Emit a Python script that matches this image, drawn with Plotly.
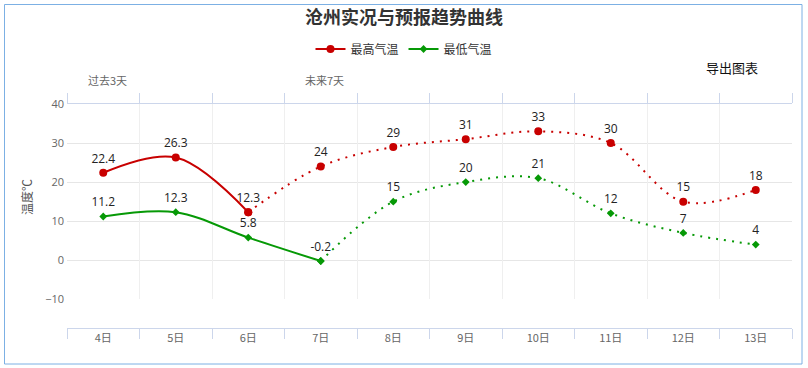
import plotly.graph_objects as go

# ---------------- data ----------------
categories = ['4日', '5日', '6日', '7日', '8日', '9日', '10日', '11日', '12日', '13日']
max_temps = [22.4, 26.3, 12.3, 24, 29, 31, 33, 30, 15, 18]
min_temps = [11.2, 12.3, 5.8, -0.2, 15, 20, 21, 12, 7, 4]
max_observed = 3   # number of observed (solid) points for max series
min_observed = 4   # number of observed (solid) points for min series
top_label_cats = ['4日', '7日']
top_label_texts = ['过去3天', '未来7天']

# ---------------- layout constants ----------------
W, H = 808, 368
ML, MR, MT, MB = 67, 16, 104, 40
PW, PH = W - ML - MR, H - MT - MB
Y_BOTTOM_PX = 299.3


def px_x(px):
    return (px - ML) / PW


def px_y(py):
    return (H - MB - py) / PH


RED = '#c80000'
GREEN = '#069906'
FONT = 'Noto Sans CJK SC, Noto Sans, sans-serif'
DOT = '2px,6px'

fig = go.Figure()


def fmt(v):
    return ('%g' % v)


def add_series(name, vals, n_obs, color, symbol, msize):
    # solid observed part
    fig.add_trace(go.Scatter(
        x=categories[:n_obs], y=vals[:n_obs], name=name, legendgroup=name,
        mode='lines+markers', line=dict(color=color, width=2, shape='spline', smoothing=1),
        marker=dict(color=color, size=msize, symbol=symbol), hoverinfo='x+y'))
    # dotted forecast part
    fig.add_trace(go.Scatter(
        x=categories[n_obs - 1:], y=vals[n_obs - 1:], name=name, legendgroup=name,
        showlegend=False, mode='lines+markers',
        line=dict(color=color, width=2, shape='spline', smoothing=1, dash=DOT),
        marker=dict(color=color, size=msize, symbol=symbol), hoverinfo='x+y'))
    # labels
    fig.add_trace(go.Scatter(
        x=categories, y=vals, mode='markers+text', text=[fmt(v) for v in vals],
        marker=dict(size=10, opacity=0),
        textposition='top center', showlegend=False, hoverinfo='skip',
        textfont=dict(size=12, color='#222', family='Open Sans, sans-serif')))


add_series('最高气温', max_temps, max_observed, RED, 'circle', 8)
add_series('最低气温', min_temps, min_observed, GREEN, 'diamond', 6)

# invisible trace for top category axis
fig.add_trace(go.Scatter(x=categories, y=max_temps, xaxis='x2', mode='markers',
                         marker=dict(opacity=0), showlegend=False, hoverinfo='skip'))

annotations = []
for c, t in zip(top_label_cats, top_label_texts):
    annotations.append(dict(x=c, xref='x', y=px_y(80), yref='paper', text=t, showarrow=False,
                            xshift=4, font=dict(size=11, color='#666', family=FONT),
                            xanchor='center', yanchor='middle'))
annotations.append(dict(x=px_x(732), xref='paper', y=px_y(68), yref='paper', text='导出图表',
                        showarrow=False, font=dict(size=13, color='#111', family=FONT),
                        xanchor='center', yanchor='middle'))
annotations.append(dict(x=px_x(26), xref='paper', y=px_y(197), yref='paper', text='温度℃',
                        showarrow=False, textangle=-90, font=dict(size=12, color='#555', family=FONT),
                        xanchor='center', yanchor='middle'))

fig.update_layout(
    width=W, height=H,
    margin=dict(l=ML, r=MR, t=MT, b=MB),
    paper_bgcolor='white', plot_bgcolor='white',
    font=dict(family=FONT, color='#333'),
    title=dict(text='<b>沧州实况与预报趋势曲线</b>', x=0.5, xref='container', xanchor='center',
               y=1 - 18 / H, yref='container', yanchor='middle',
               font=dict(size=18, color='#333', family=FONT)),
    legend=dict(orientation='h', x=0.5, xref='container', xanchor='center',
                y=1 - 49 / H, yref='container', yanchor='middle',
                font=dict(size=12, color='#333', family=FONT), itemwidth=30),
    xaxis=dict(type='category', categoryorder='array', categoryarray=categories,
               range=[-0.5, len(categories) - 0.5], anchor='free', position=0,
               showgrid=False, showline=True, linecolor='#ccd6eb', linewidth=1,
               ticks='outside', tickson='boundaries', ticklen=10, tickcolor='#ccd6eb',
               tickfont=dict(size=11, color='#666', family=FONT), zeroline=False),
    xaxis2=dict(type='category', categoryorder='array', categoryarray=categories,
                range=[-0.5, len(categories) - 0.5], overlaying='x', side='top', anchor='y',
                showgrid=True, gridcolor='#efefef', showline=True, linecolor='#ccd6eb',
                ticks='outside', tickson='boundaries', ticklen=10, tickcolor='#ccd6eb',
                showticklabels=False, zeroline=False),
    yaxis=dict(range=[-10, 40], domain=[px_y(Y_BOTTOM_PX), 1], dtick=10, tick0=0,
               showgrid=True, gridcolor='#e6e6e6', zeroline=False, showline=False,
               ticks='', tickfont=dict(size=11, color='#666', family='Open Sans, sans-serif'),
               ticklabelstandoff=2),
    annotations=annotations,
    shapes=[dict(type='rect', xref='paper', yref='paper',
                 x0=px_x(4.5), x1=px_x(802), y0=px_y(364), y1=px_y(4.5),
                 line=dict(color='#7cb0e4', width=1), layer='below')],
    hovermode='closest',
)

fig.write_html('out.html', config={'displayModeBar': False},
               post_script="document.body.style.margin='0';")
